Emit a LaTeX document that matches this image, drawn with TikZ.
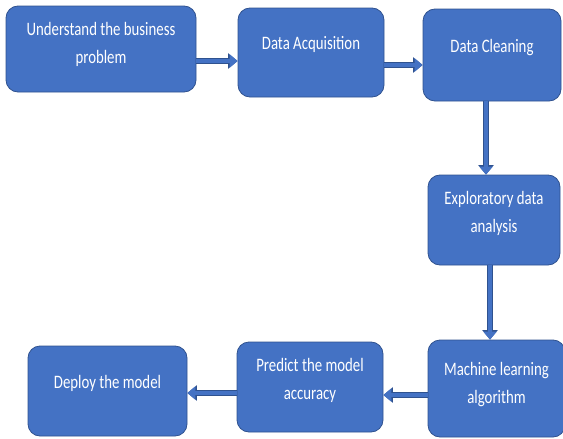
\documentclass[tikz,border=0pt]{standalone}
\usepackage{fontspec}
\setmainfont{Carlito}[FakeStretch=0.78]
\usetikzlibrary{arrows.meta}
\definecolor{boxblue}{HTML}{4472C4}
\definecolor{edgeblue}{HTML}{2F528F}

\tikzset{
  stage/.style={draw=edgeblue, fill=boxblue, line width=0.8pt, rounded corners=12pt},
  stagetext/.style={text=white, align=center, font=\fontsize{19}{28}\selectfont},
  flow/.style={draw=boxblue, line width=4pt,
    -{Triangle[width=13pt,length=8pt]},
    preaction={draw=edgeblue, line width=5.4pt, -{Triangle[width=15pt,length=9.5pt]}}}
}

\begin{document}
\begin{tikzpicture}[x=1pt, y=-1pt]
  \useasboundingbox (0,0) rectangle (563,439);

  \node[stage, minimum width=190pt, minimum height=86pt,
        label={[stagetext, yshift=5pt]center:Understand the business\\problem}] (business) at (101,49) {};
  \node[stage, minimum width=146pt, minimum height=89pt,
        label={[stagetext, yshift=8.5pt]center:Data Acquisition}] (acquire) at (311,52.5) {};
  \node[stage, minimum width=138pt, minimum height=92pt,
        label={[stagetext, yshift=7pt]center:Data Cleaning}] (clean) at (492,55) {};
  \node[stage, minimum width=132pt, minimum height=90pt,
        label={[stagetext, yshift=6.5pt]center:Exploratory data\\analysis}] (eda) at (494,220) {};
  \node[stage, minimum width=137pt, minimum height=97pt,
        label={[stagetext, yshift=3.5pt]center:Machine learning\\algorithm}] (mlalgo) at (496.5,388.5) {};
  \node[stage, minimum width=146pt, minimum height=90pt,
        label={[stagetext, yshift=7pt]center:Predict the model\\accuracy}] (predict) at (310,387) {};
  \node[stage, minimum width=159pt, minimum height=90pt,
        label={[stagetext, yshift=8pt]center:Deploy the model}] (deploy) at (107.5,391) {};

  \draw[flow] ([yshift=-12pt]business.east) -- ([yshift=-12pt]business.east -| acquire.west);
  \draw[flow] ([yshift=-12.5pt]acquire.east) -- ([yshift=-12.5pt]acquire.east -| clean.west);
  \draw[flow] ([xshift=-6pt]clean.south) -- ([xshift=-6pt]clean.south |- eda.north);
  \draw[flow] ([xshift=-4pt]eda.south) -- ([xshift=-4pt]eda.south |- mlalgo.north);
  \draw[flow] ([yshift=-6.5pt]mlalgo.west) -- ([yshift=-6.5pt]mlalgo.west -| predict.east);
  \draw[flow] ([yshift=-6pt]predict.west) -- ([yshift=-6pt]predict.west -| deploy.east);
\end{tikzpicture}
\end{document}
